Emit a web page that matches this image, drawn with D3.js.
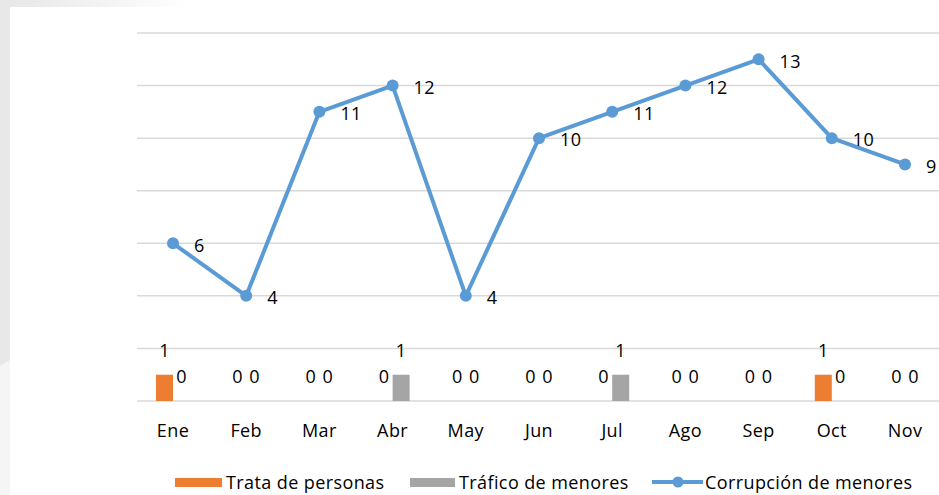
<!DOCTYPE html>
<html>
<head>
<meta charset="utf-8">
<script src="https://cdn.jsdelivr.net/npm/d3@7.9.0/dist/d3.min.js"></script>
<style>
  html, body { margin: 0; padding: 0; background: #fff; }
  svg { display: block; font-family: "Open Sans", Lato, sans-serif; letter-spacing: 0.4px; }
</style>
</head>
<body>
<svg id="chart" width="939" height="495"></svg>
<script>
// chart data
const months = ["Ene", "Feb", "Mar", "Abr", "May", "Jun", "Jul", "Ago", "Sep", "Oct", "Nov"];
const trata = [1, 0, 0, 0, 0, 0, 0, 0, 0, 1, 0];
const trafico = [0, 0, 0, 1, 0, 0, 1, 0, 0, 0, 0];
const corrupcion = [6, 4, 11, 12, 4, 10, 11, 12, 13, 10, 9];
const seriesNames = ["Trata de personas", "Tráfico de menores", "Corrupción de menores"];
const gridTicks = [0, 2, 4, 6, 8, 10, 12, 14];

const colors = { trata: "#ed7d31", trafico: "#a5a5a5", corrupcion: "#5b9bd5" };
const fs = 18;
const ink = "#000";

const svg = d3.select("#chart");

// page background: grey strips at the top-left like the slide it came from
const defs = svg.append("defs");
const grad = defs.append("linearGradient").attr("id", "topfade");
grad.append("stop").attr("offset", "0%").attr("stop-color", "#e6e6e6");
grad.append("stop").attr("offset", "100%").attr("stop-color", "#ffffff");
svg.append("rect").attr("x", 0).attr("y", 0).attr("width", 190).attr("height", 7).attr("fill", "url(#topfade)");
svg.append("rect").attr("x", 0).attr("y", 0).attr("width", 10).attr("height", 495).attr("fill", "#e8e8e8");
svg.append("path").attr("d", "M0,366 L10,360 L10,495 L0,495 Z").attr("fill", "#f5f5f5");

// scales
const x = d3.scaleBand().domain(months).range([136.4, 941.6]).padding(0);
const y = d3.scaleLinear().domain([0, 14]).range([401, 33]);
const barW = 17;

// gridlines
svg.append("g")
  .selectAll("line")
  .data(gridTicks)
  .join("line")
  .attr("x1", 137)
  .attr("x2", 939)
  .attr("y1", (d) => y(d))
  .attr("y2", (d) => y(d))
  .attr("stroke", "#d9d9d9")
  .attr("stroke-width", 1.5);

// bars
const cx = (m) => x(m) + x.bandwidth() / 2;
const bars = svg.append("g");
bars.selectAll("rect.trata")
  .data(months)
  .join("rect")
  .attr("class", "trata")
  .attr("x", (m) => cx(m) - barW)
  .attr("width", barW)
  .attr("y", (m, i) => y(trata[i]))
  .attr("height", (m, i) => y(0) - y(trata[i]))
  .attr("fill", colors.trata);
bars.selectAll("rect.trafico")
  .data(months)
  .join("rect")
  .attr("class", "trafico")
  .attr("x", (m) => cx(m))
  .attr("width", barW)
  .attr("y", (m, i) => y(trafico[i]))
  .attr("height", (m, i) => y(0) - y(trafico[i]))
  .attr("fill", colors.trafico);

// bar labels
const barLabels = svg.append("g").attr("font-size", fs).attr("text-anchor", "middle").attr("fill", ink);
barLabels.selectAll("text.t1")
  .data(months)
  .join("text")
  .attr("x", (m) => cx(m) - barW / 2)
  .attr("y", (m, i) => y(trata[i]) - 24)
  .attr("dy", "0.35em")
  .text((m, i) => trata[i]);
barLabels.selectAll("text.t2")
  .data(months)
  .join("text")
  .attr("x", (m) => cx(m) + barW / 2)
  .attr("y", (m, i) => y(trafico[i]) - 24)
  .attr("dy", "0.35em")
  .text((m, i) => trafico[i]);

// line series
const line = d3.line()
  .x((d, i) => cx(months[i]))
  .y((d) => y(d));
svg.append("path")
  .datum(corrupcion)
  .attr("d", line)
  .attr("fill", "none")
  .attr("stroke", colors.corrupcion)
  .attr("stroke-width", 4)
  .attr("stroke-linejoin", "round");
svg.append("g")
  .selectAll("circle")
  .data(corrupcion)
  .join("circle")
  .attr("cx", (d, i) => cx(months[i]))
  .attr("cy", (d) => y(d))
  .attr("r", 6)
  .attr("fill", colors.corrupcion);
svg.append("g")
  .attr("font-size", fs)
  .attr("fill", ink)
  .selectAll("text")
  .data(corrupcion)
  .join("text")
  .attr("x", (d, i) => cx(months[i]) + 21)
  .attr("y", (d) => y(d) + 2)
  .attr("dy", "0.35em")
  .text((d) => d);

// x axis labels
svg.append("g")
  .attr("font-size", fs)
  .attr("text-anchor", "middle")
  .attr("fill", ink)
  .selectAll("text")
  .data(months)
  .join("text")
  .attr("x", (m) => cx(m))
  .attr("y", 431)
  .attr("dy", "0.35em")
  .text((m) => m);

// legend
const legend = svg.append("g").attr("font-size", fs).attr("fill", ink);
legend.append("rect").attr("x", 175).attr("y", 478).attr("width", 47).attr("height", 9).attr("fill", colors.trata);
legend.append("text").attr("x", 226).attr("y", 483).attr("dy", "0.35em").text(seriesNames[0]);
legend.append("rect").attr("x", 410).attr("y", 478).attr("width", 45).attr("height", 9).attr("fill", colors.trafico);
legend.append("text").attr("x", 459).attr("y", 483).attr("dy", "0.35em").text(seriesNames[1]);
legend.append("line").attr("x1", 652).attr("x2", 703).attr("y1", 482).attr("y2", 482)
  .attr("stroke", colors.corrupcion).attr("stroke-width", 4);
legend.append("circle").attr("cx", 678).attr("cy", 482).attr("r", 5.5).attr("fill", colors.corrupcion);
legend.append("text").attr("x", 705).attr("y", 483).attr("dy", "0.35em").text(seriesNames[2]);
</script>
</body>
</html>
